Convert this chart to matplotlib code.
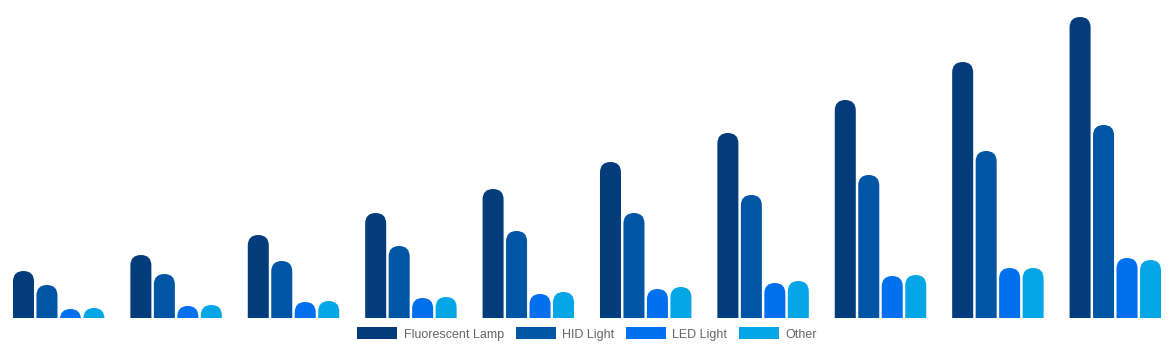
import numpy as np
import matplotlib.pyplot as plt
from matplotlib.patches import FancyBboxPatch, Patch

plt.rcParams['font.family'] = ['Liberation Sans', 'DejaVu Sans']

# Dane (10 grup, 4 serie)
years = list(range(10))
fluorescent = [4.7, 6.3, 8.3, 10.5, 12.9, 15.6, 18.5, 21.8, 25.6, 30.1]
hid = [3.3, 4.4, 5.7, 7.2, 8.7, 10.5, 12.3, 14.3, 16.7, 19.3]
led = [0.9, 1.2, 1.6, 2.0, 2.4, 2.9, 3.5, 4.2, 5.0, 6.0]
other = [1.0, 1.3, 1.7, 2.1, 2.6, 3.1, 3.7, 4.3, 5.0, 5.8]

series = [fluorescent, hid, led, other]
labels = ['Fluorescent Lamp', 'HID Light', 'LED Light', 'Other']
colors = ['#033c7a', '#0055a5', '#0070ef', '#05a6e5']

W, H = 1174, 350
fig = plt.figure(figsize=(W / 100, H / 100), dpi=100)
# os: baseline 32 px od dolu, 10 px na jednostke
ax = fig.add_axes([0, 32 / H, 1, 310 / H])
ax.set_xlim(-0.5, 9.5)
ax.set_ylim(0, 31)
ax.axis('off')

bar_w = 0.179
step = 0.2
r_px = 10.5
rx = r_px * 10 / W          # promien w jednostkach x
ry = r_px * 31 / 310        # promien w jednostkach y
x = np.arange(len(years))

for i, (vals, col) in enumerate(zip(series, colors)):
    off = (i - 1.5) * step
    for xi, v in zip(x, vals):
        bottom = -3
        p = FancyBboxPatch((xi + off - bar_w / 2, bottom), bar_w, v - bottom,
                           boxstyle=f'round,pad=0,rounding_size={rx}',
                           mutation_aspect=ry / rx, facecolor=col,
                           edgecolor='none', clip_on=True)
        ax.add_patch(p)

handles = [Patch(facecolor=c, edgecolor='none') for c in colors]
fig.legend(handles, labels, loc='center', bbox_to_anchor=(0.5, 16 / H),
           ncol=4, frameon=False, fontsize=9, handlelength=3.2,
           handleheight=1.1, handletextpad=0.5, columnspacing=0.95,
           labelcolor='#666666')

fig.savefig('out.png', dpi=100)
